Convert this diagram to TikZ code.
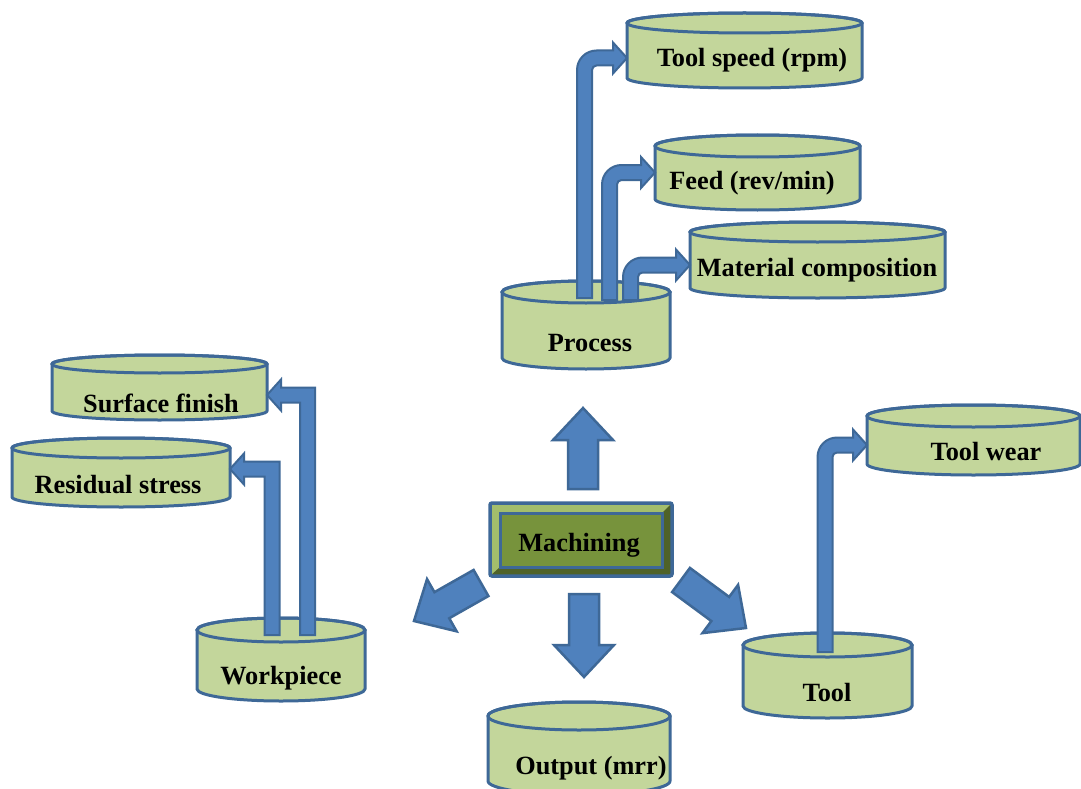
\documentclass[tikz,border=0pt]{standalone}
\usepackage{fontspec}
\setmainfont{Liberation Serif}
\usetikzlibrary{calc}
\definecolor{cylfill}{HTML}{C3D69B}
\definecolor{bluel}{HTML}{3E6897}
\definecolor{arrfill}{HTML}{4F81BD}
\definecolor{machfill}{HTML}{77933C}
\definecolor{bevlight}{HTML}{A3BE6C}
\definecolor{bevdark}{HTML}{4F6228}
\newcommand{\arrh}{7.5pt}
\newcommand{\arrH}{15.5pt}
\newcommand{\arrL}{14pt}
% cylinder: name, cx, cy, width, height, ry
\newcommand{\mycyl}[6]{%
  \node[cylbody, minimum width=#4pt, minimum height=#5pt] (#1) at (#2,#3) {};
  \path[cylshape] let \p1=(#1.north west), \p2=(#1.south east) in
    (\p1) -- (\x1,\y2) arc[start angle=180, end angle=360, x radius=#4pt/2, y radius=#6pt]
    -- (\x2,\y1) arc[start angle=0, end angle=180, x radius=#4pt/2, y radius=#6pt] -- cycle;
  \draw[cylline] (#1.north) ellipse[x radius=#4pt/2, y radius=#6pt];
}
% bent arrow: up then right, rounded corner radius #3
\newcommand{\uprightarrow}[3]{%
  \path[thinarrow] let \p1=(#1), \p2=(#2) in
    (\x1-\arrh,\y1) -- (\x1-\arrh,\y2-#3)
    arc[start angle=180, end angle=90, radius=#3+\arrh]
    -- (\x2-\arrL,\y2+\arrh) -- (\x2-\arrL,\y2+\arrH) -- (\x2,\y2)
    -- (\x2-\arrL,\y2-\arrH) -- (\x2-\arrL,\y2-\arrh) -- (\x1+#3,\y2-\arrh)
    arc[start angle=90, end angle=180, radius=#3-\arrh]
    -- (\x1+\arrh,\y1) -- cycle;
}
% bent arrow: up then left, square corner
\newcommand{\upleftarrow}[2]{%
  \path[thinarrow] let \p1=(#1), \p2=(#2) in
    (\x1+\arrh,\y1) -- (\x1+\arrh,\y2+\arrh) -- (\x2+\arrL,\y2+\arrh)
    -- (\x2+\arrL,\y2+\arrH) -- (\x2,\y2) -- (\x2+\arrL,\y2-\arrH)
    -- (\x2+\arrL,\y2-\arrh) -- (\x1-\arrh,\y2-\arrh) -- (\x1-\arrh,\y1) -- cycle;
}
% big block arrow from tail #1 to tip #2
\newcommand{\blockarrow}[2]{%
  \coordinate (bh) at ($(#2)!32pt!(#1)$);
  \path[bigarr] ($(#1)!15pt!90:(#2)$) -- ($(bh)!15pt!-90:(#1)$) -- ($(bh)!30pt!-90:(#1)$)
    -- (#2) -- ($(bh)!30pt!90:(#1)$) -- ($(bh)!15pt!90:(#1)$) -- ($(#1)!15pt!-90:(#2)$) -- cycle;
}
\begin{document}
\begin{tikzpicture}[x=1pt,y=-1pt,
  cylbody/.style={rectangle,draw=none,inner sep=0pt,outer sep=0pt},
  cylshape/.style={fill=cylfill,draw=bluel,line width=3pt,line join=round},
  cylline/.style={draw=bluel,line width=3pt},
  lbl/.style={font=\fontsize{26.3}{30}\selectfont\bfseries,inner sep=0pt},
  thinarrow/.style={fill=arrfill,draw=bluel,line width=2pt,line join=miter},
  bigarr/.style={fill=arrfill,draw=bluel,line width=2.5pt,line join=miter}]
\useasboundingbox (0,0) rectangle (1081,789);
\clip (0,0) rectangle (1081,789);
\fill[white] (0,0) rectangle (1081,789);

% cylinders
\mycyl{ts}{744.5}{50.5}{235}{55}{10}
\mycyl{fd}{757.5}{172.5}{205}{53}{11}
\mycyl{mc}{817.5}{260}{255}{56}{10}
\mycyl{pr}{586}{325}{168}{66}{11}
\mycyl{sf}{159.5}{387.5}{215}{47}{9}
\mycyl{rs}{121}{472.5}{218}{49}{10}
\mycyl{wp}{281}{659.5}{168}{59}{12}
\mycyl{tw}{973.5}{440}{213}{48}{11}
\mycyl{tl}{827.5}{675.5}{169}{61}{12}
\mycyl{out}{579}{748.5}{182}{65}{14}

% machining box
\node[cylbody, minimum width=182pt, minimum height=73pt] (mach) at (581,539.5) {};
\coordinate (mi-nw) at ($(mach.north west)+(10,10)$);
\coordinate (mi-se) at ($(mach.south east)+(-10,-9)$);
\fill[bevlight] (mach.north west) rectangle (mach.south east);
\fill[bevdark] (mach.south west) -- (mach.south east) -- (mach.north east)
  -- (mi-nw -| mi-se) -- (mi-se) -- (mi-nw |- mi-se) -- cycle;
\draw[fill=machfill, draw=bluel, line width=3pt] (mi-nw) rectangle (mi-se);
\draw[draw=bluel, line width=3.5pt, rounded corners=2pt] (mach.north west) rectangle (mach.south east);

% connector start points
\coordinate (a1s) at (584.5,298);
\coordinate (a2s) at (609.5,300);
\coordinate (a3s) at (630.5,300);
\coordinate (a4s) at (825,652);
\coordinate (a5s) at (272,635);
\coordinate (a6s) at (307.5,635);

\uprightarrow{a1s}{$(ts.west)+(0,7.5)$}{12pt}
\uprightarrow{a2s}{fd.west}{12pt}
\uprightarrow{a3s}{$(mc.west)+(0,5)$}{12pt}
\uprightarrow{a4s}{$(tw.west)+(0,5)$}{12pt}
\upleftarrow{a5s}{$(rs.east)+(0,-3.5)$}
\upleftarrow{a6s}{$(sf.east)+(0,7.5)$}

% big arrows from machining
\coordinate (bu1) at (583,489);  \coordinate (bu2) at (583,408);
\coordinate (bd1) at (584,594);  \coordinate (bd2) at (584,677);
\coordinate (bl1) at (481,583);  \coordinate (bl2) at (414,621);
\coordinate (br1) at (681,580);  \coordinate (br2) at (746,628);
\blockarrow{bu1}{bu2}
\blockarrow{bd1}{bd2}
\blockarrow{bl1}{bl2}
\blockarrow{br1}{br2}

% labels
\node[lbl] (mach-t) at (579,545) {Machining};
\node[lbl] (ts-t) at (752,60) {Tool speed (rpm)};
\node[lbl] (fd-t) at (752,183) {Feed (rev/min)};
\node[lbl] (mc-t) at (817,270) {Material composition};
\node[lbl] (pr-t) at (590,343) {Process};
\node[lbl] (sf-t) at (161,403) {Surface finish};
\node[lbl] (rs-t) at (118,485) {Residual stress};
\node[lbl] (wp-t) at (281,678) {Workpiece};
\node[lbl] (tw-t) at (986,452) {Tool wear};
\node[lbl] (tl-t) at (827,692) {Tool};
\node[lbl] (out-t) at (591,768) {Output (mrr)};
\end{tikzpicture}
\end{document}
